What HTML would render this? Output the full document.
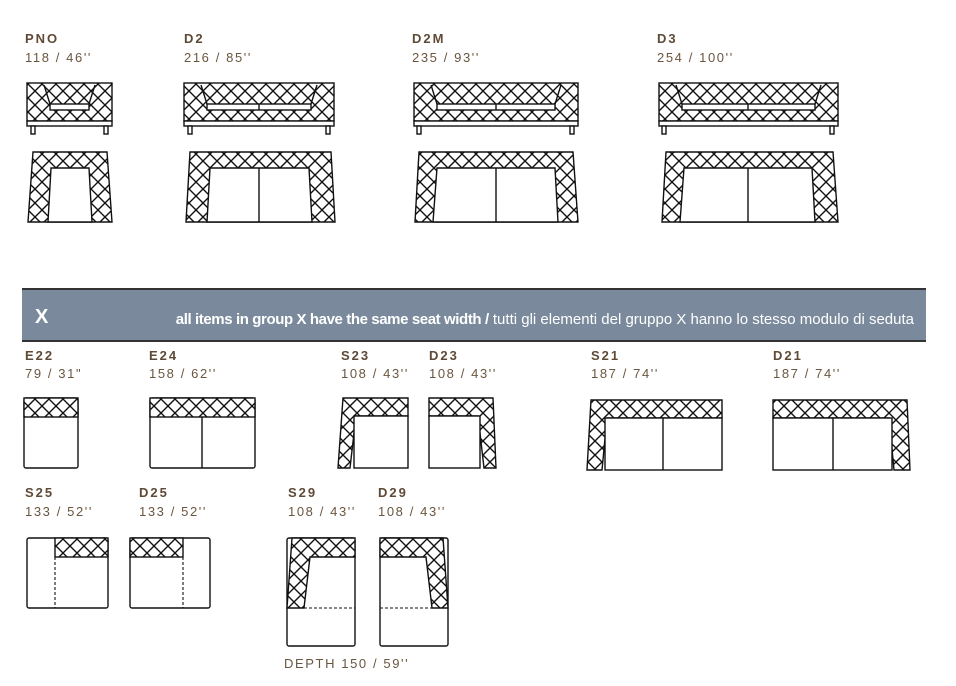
<!DOCTYPE html>
<html><head><meta charset="utf-8"><style>
body{margin:0;background:#fff;width:956px;height:686px;overflow:hidden}
svg{display:block}
.l{font-family:"Liberation Sans",sans-serif;font-weight:bold;font-size:13px;fill:#5e4a36;letter-spacing:2px}
.d{font-family:"Liberation Sans",sans-serif;font-size:13px;fill:#6a5640;letter-spacing:1.6px}
.q{fill:url(#q);stroke:#111;stroke-width:1.4}
.w{fill:#fff;stroke:#111;stroke-width:1.4}
.n{fill:none;stroke:#111;stroke-width:1.4}
.ds{fill:none;stroke:#111;stroke-width:1.1;stroke-dasharray:3 2}
</style></head><body>
<svg width="956" height="686" viewBox="0 0 956 686">
<defs>
<pattern id="q" width="14" height="14" patternUnits="userSpaceOnUse">
<rect width="14" height="14" fill="#fff"/>
<path d="M0 0L14 14M14 0L0 14" stroke="#111" stroke-width="1.4"/>
</pattern>
</defs>

<text class="l" x="25" y="43">PNO</text><text class="d" x="25" y="62">118 / 46''</text>
<text class="l" x="184" y="43">D2</text><text class="d" x="184" y="62">216 / 85''</text>
<text class="l" x="412" y="43">D2M</text><text class="d" x="412" y="62">235 / 93''</text>
<text class="l" x="657" y="43">D3</text><text class="d" x="657" y="62">254 / 100''</text>

<!-- PNO -->
<rect class="q" x="27" y="83" width="85" height="38"/>
<rect class="w" x="27" y="121" width="85" height="5"/>
<rect class="w" x="31" y="126" width="4" height="8"/><rect class="w" x="104" y="126" width="4" height="8"/>
<path class="n" d="M44 85L50 104M95 85L89 104"/>
<rect class="w" x="50" y="104" width="39" height="6"/>
<polygon class="q" points="33,152 107,152 112,222 28,222"/>
<polygon class="w" points="51,168 89,168 92,222 48,222"/>

<!-- D2 -->
<rect class="q" x="184" y="83" width="150" height="38"/>
<rect class="w" x="184" y="121" width="150" height="5"/>
<rect class="w" x="188" y="126" width="4" height="8"/><rect class="w" x="326" y="126" width="4" height="8"/>
<path class="n" d="M201 85L207 104M317 85L311 104"/>
<rect class="w" x="207" y="104" width="104" height="6"/><path class="n" d="M259 104V110"/>
<polygon class="q" points="190,152 331,152 335,222 186,222"/>
<polygon class="w" points="210,168 309,168 312,222 207,222"/><path class="n" d="M259 168V222"/>

<!-- D2M -->
<rect class="q" x="414" y="83" width="164" height="38"/>
<rect class="w" x="414" y="121" width="164" height="5"/>
<rect class="w" x="417" y="126" width="4" height="8"/><rect class="w" x="570" y="126" width="4" height="8"/>
<path class="n" d="M431 85L437 104M561 85L555 104"/>
<rect class="w" x="437" y="104" width="118" height="6"/><path class="n" d="M496 104V110"/>
<polygon class="q" points="419,152 573,152 578,222 415,222"/>
<polygon class="w" points="437,168 555,168 558,222 433,222"/><path class="n" d="M496 168V222"/>

<!-- D3 -->
<rect class="q" x="659" y="83" width="179" height="38"/>
<rect class="w" x="659" y="121" width="179" height="5"/>
<rect class="w" x="662" y="126" width="4" height="8"/><rect class="w" x="830" y="126" width="4" height="8"/>
<path class="n" d="M676 85L682 104M821 85L815 104"/>
<rect class="w" x="682" y="104" width="133" height="6"/><path class="n" d="M748 104V110"/>
<polygon class="q" points="666,152 833,152 838,222 662,222"/>
<polygon class="w" points="684,168 812,168 815,222 680,222"/><path class="n" d="M748 168V222"/>

<!-- banner -->
<rect x="22" y="288" width="904" height="54" fill="#7a8a9c"/>
<path d="M22 289H926M22 341H926" stroke="#333" stroke-width="2"/>
<text x="35" y="323" font-family="Liberation Sans,sans-serif" font-weight="bold" font-size="20" fill="#fff">X</text>
<text x="914" y="324" text-anchor="end" font-family="Liberation Sans,sans-serif" font-size="15" fill="#fff"><tspan font-weight="bold" font-size="15" letter-spacing="-0.4">all items in group X have the same seat width /</tspan> tutti gli elementi del gruppo X hanno lo stesso modulo di seduta</text>

<text class="l" x="25" y="360">E22</text><text class="d" x="25" y="378">79 / 31"</text>
<text class="l" x="149" y="360">E24</text><text class="d" x="149" y="378">158 / 62''</text>
<text class="l" x="341" y="360">S23</text><text class="d" x="341" y="378">108 / 43''</text>
<text class="l" x="429" y="360">D23</text><text class="d" x="429" y="378">108 / 43''</text>
<text class="l" x="591" y="360">S21</text><text class="d" x="591" y="378">187 / 74''</text>
<text class="l" x="773" y="360">D21</text><text class="d" x="773" y="378">187 / 74''</text>

<!-- E22 -->
<rect class="w" x="24" y="398" width="54" height="70" rx="2"/>
<rect class="q" x="24" y="398" width="54" height="19"/>
<!-- E24 -->
<rect class="w" x="150" y="398" width="105" height="70" rx="2"/>
<rect class="q" x="150" y="398" width="105" height="19"/><path class="n" d="M202 417V468"/>
<!-- S23 -->
<polygon class="q" points="343,398 408,398 408,416 356,416 350,468 338,468"/>
<rect class="w" x="354" y="416" width="54" height="52"/>
<!-- D23 -->
<polygon class="q" points="429,398 493,398 496,468 484,468 478,416 429,416"/>
<rect class="w" x="429" y="416" width="51" height="52"/>
<!-- S21 -->
<polygon class="q" points="591,400 722,400 722,418 607,418 602,470 587,470"/>
<rect class="w" x="605" y="418" width="117" height="52"/><path class="n" d="M663 418V470"/>
<!-- D21 -->
<polygon class="q" points="773,400 907,400 910,470 894,470 889,418 773,418"/>
<rect class="w" x="773" y="418" width="119" height="52"/><path class="n" d="M833 418V470"/>

<text class="l" x="25" y="497">S25</text><text class="d" x="25" y="516">133 / 52''</text>
<text class="l" x="139" y="497">D25</text><text class="d" x="139" y="516">133 / 52''</text>
<text class="l" x="288" y="497">S29</text><text class="d" x="288" y="516">108 / 43''</text>
<text class="l" x="378" y="497">D29</text><text class="d" x="378" y="516">108 / 43''</text>

<!-- S25 -->
<rect class="w" x="27" y="538" width="81" height="70" rx="2"/>
<rect class="q" x="55" y="538" width="53" height="19"/><path class="ds" d="M55 557V608"/>
<!-- D25 -->
<rect class="w" x="130" y="538" width="80" height="70" rx="2"/>
<rect class="q" x="130" y="538" width="53" height="19"/><path class="ds" d="M183 557V608"/>
<!-- S29 -->
<rect class="w" x="287" y="538" width="68" height="108" rx="2"/>
<polygon class="q" points="292,538 355,538 355,557 310,557 304,608 287,608"/>
<path class="ds" d="M304 608H355"/>
<!-- D29 -->
<rect class="w" x="380" y="538" width="68" height="108" rx="2"/>
<polygon class="q" points="380,538 443,538 448,608 432,608 426,557 380,557"/>
<path class="ds" d="M380 608H432"/>

<text class="d" x="284" y="668">DEPTH 150 / 59''</text>
</svg>
</body></html>
